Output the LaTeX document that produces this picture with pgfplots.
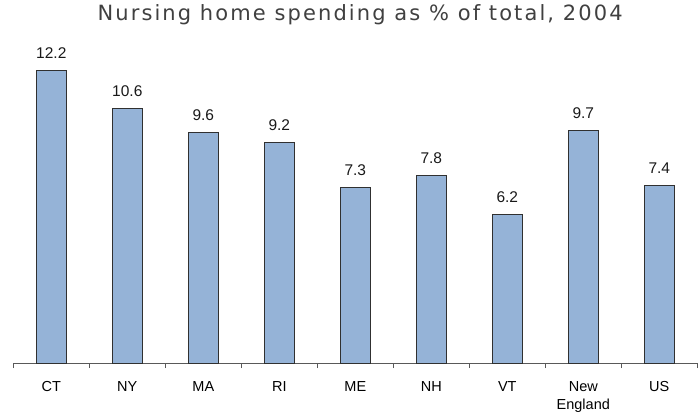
\documentclass[border=0pt]{standalone}
\usepackage{pgfplots}
\pgfplotsset{compat=1.18}
\usepackage{fontspec}
\setmainfont{Liberation Sans}
\newfontfamily\titlefont[LetterSpace=10]{DejaVu Sans}
\definecolor{barfill}{HTML}{95B3D7}
\definecolor{baredge}{HTML}{303030}
\definecolor{titlegray}{HTML}{404040}
\begin{document}
\begin{tikzpicture}
\useasboundingbox (0,0) rectangle (698pt,416pt);
\begin{axis}[
  at={(13.3pt,53pt)}, anchor=south west,
  scale only axis, width=684pt, height=336pt,
  ymin=0, ymax=14,
  xmin=-0.5, xmax=8.5,
  axis x line*=bottom, axis y line=none,
  x axis line style={color=black!65, line width=0.8pt, -},
  xtick={0,...,8},
  xticklabels={CT,NY,MA,RI,ME,NH,VT,{New\\England},US},
  xticklabel style={align=center, font=\fontsize{14.5}{18.5}\selectfont, anchor=north, yshift=-14.5pt},
  major tick length=0pt,
  minor xtick={-0.5,0.5,...,8.5},
  minor tick length=5pt,
  tick align=outside,
  minor tick style={color=black!65, line width=0.8pt},
  ybar, bar width=30pt,
  title={Nursing home spending as \% of total, 2004},
  title style={font=\titlefont\fontsize{21}{24}\selectfont, color=titlegray, anchor=base, at={(axis description cs:0.507,1)}},
  nodes near coords,
  nodes near coords style={font=\fontsize{15.5}{18}\selectfont, color=black!90, anchor=base, yshift=12pt},
  point meta=explicit symbolic,
]
\addplot[fill=barfill, draw=baredge, line width=0.9pt] coordinates {
  (0,12.2) [12.2]
  (1,10.6) [10.6]
  (2,9.6) [9.6]
  (3,9.2) [9.2]
  (4,7.3) [7.3]
  (5,7.8) [7.8]
  (6,6.2) [6.2]
  (7,9.7) [9.7]
  (8,7.4) [7.4]
};
\end{axis}
\end{tikzpicture}
\end{document}
